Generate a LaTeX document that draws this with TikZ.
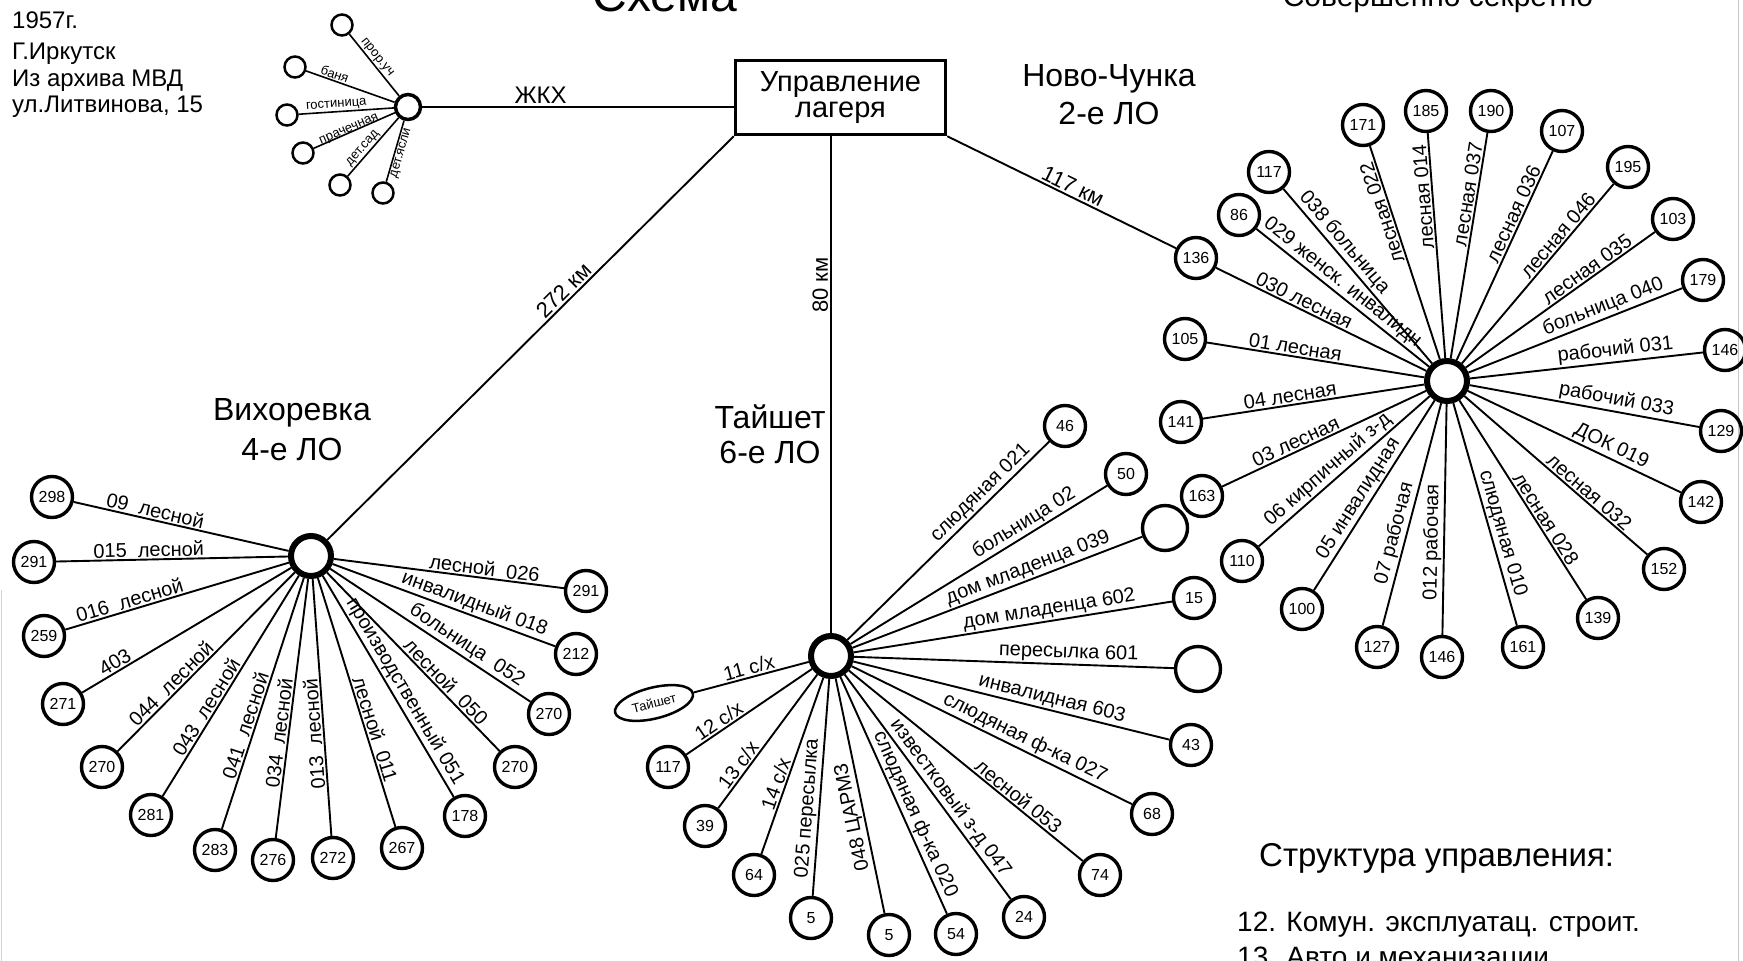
\documentclass[tikz,border=0pt]{standalone}
\usepackage{fontspec}
\setmainfont{Liberation Sans}
\usetikzlibrary{shapes.geometric}
\newcommand\myfs[1]{\fontsize{#1}{#1}\selectfont}
\tikzset{
 leaf/.style={circle, draw, line width=3.4pt, minimum size=41pt, inner sep=0pt, font=\myfs{16}},
 bigleaf/.style={leaf, minimum size=45pt},
 hub/.style={circle, draw, line width=6pt, minimum size=40pt, inner sep=0pt},
 zleaf/.style={circle, draw, line width=2.5pt, minimum size=21pt, inner sep=0pt},
 zhub/.style={circle, draw, line width=3.5pt, minimum size=25pt, inner sep=0pt},
 conn/.style={line width=1.9pt},
 lab/.style={sloped, allow upside down, above, inner sep=1.5pt, font=\myfs{20}},
 zlab/.style={sloped, allow upside down, above, inner sep=1pt, font=\myfs{13}},
 region/.style={font=\myfs{32}},
 km/.style={sloped, above, inner sep=2pt, font=\myfs{22}},
 txt/.style={anchor=base west, inner sep=0pt, font=\myfs{24}},
}
\newcommand\lnk[4][0.5]{\draw[conn] (#2) -- node[lab,pos=#1]{#4} (#3);}
\newcommand\zlnk[4][]{\draw[conn, line width=1.6pt] (#2) -- node[zlab,#1]{#4} (#3);}
\begin{document}
\begin{tikzpicture}[x=1pt, y=-1pt]
\useasboundingbox (0,0) rectangle (1743,961);
\clip (0,0) rectangle (1743,961);
\fill[white] (0,0) rectangle (1743,961);
\draw[gray!45, line width=1pt] (1738,0) -- (1738,961);
\draw[gray!35, line width=1pt] (1.5,590) -- (1.5,961);

% titles and notes
\node[anchor=base, inner sep=0pt, font=\myfs{48}] (title) at (665,11) {Схема};
\node[anchor=base, inner sep=0pt, font=\myfs{30}] (secret) at (1438,6) {Совершенно секретно};
\node[txt] (t1) at (12,28) {1957г.};
\node[txt] (t2) at (12,59) {Г.Иркутск};
\node[txt] (t3) at (12,86) {Из архива МВД};
\node[txt] (t4) at (12,112) {ул.Литвинова, 15};
\node[txt, font=\myfs{33}] (s0) at (1259,866) {Структура управления:};
\node[txt, font=\myfs{28}] (s1) at (1237,931) {12. Комун. эксплуатац. строит.};
\node[txt, font=\myfs{28}] (s2) at (1237,966) {13. Авто и механизации};

% management box
\node[draw, line width=3.5pt, minimum width=210pt, minimum height=74pt, align=center, font=\myfs{29}] (box) at (840.5,97.5) {Управление\\[-3pt]лагеря};

% ZhKKh star
\node[zhub] (zh) at (408,107) {};
\node[zleaf] (z1) at (342,25) {};
\node[zleaf] (z2) at (295,67) {};
\node[zleaf] (z3) at (287,115) {};
\node[zleaf] (z4) at (303,153) {};
\node[zleaf] (z5) at (340,185) {};
\node[zleaf] (z6) at (383,193) {};
\zlnk[pos=0.45]{z1}{zh}{прор.уч}
\zlnk[pos=0.3]{z2}{zh}{баня}
\zlnk[pos=0.4]{z3}{zh}{гостиница}
\zlnk[inner sep=-3pt, pos=0.45]{z4}{zh}{прачечная}
\zlnk[pos=0.4]{z5}{zh}{дет.сад}
\zlnk[below, pos=0.5]{z6}{zh}{дет.ясли}
\draw[conn] (zh) -- node[above, inner sep=3pt, pos=0.38, font=\myfs{24}] {ЖКХ} (zh -| box.west);

% regional hubs
\node[hub] (h2) at (1447,381) {};
\node[hub] (h4) at (311,556) {};
\node[hub] (h6) at (831,656) {};
\node[region] (r2a) at (1109,79) {Ново-Чунка};
\node[region] (r2b) at (1109,113) {2-е ЛО};
\node[region] (r4a) at (292,413) {Вихоревка};
\node[region] (r4b) at (292,449) {4-е ЛО};
\node[region] (r6a) at (770,417) {Тайшет};
\node[region] (r6b) at (770,452) {6-е ЛО};

% Novo-Chunka
\node[leaf] (n136) at (1196,258) {136};
\node[leaf] (n86) at (1239,215) {86};
\node[leaf] (n117) at (1269,172) {117};
\node[leaf] (n171) at (1363,125) {171};
\node[leaf] (n185) at (1426,111) {185};
\node[leaf] (n190) at (1491,111) {190};
\node[leaf] (n107) at (1562,131) {107};
\node[leaf] (n195) at (1628,167) {195};
\node[leaf] (n103) at (1673,219) {103};
\node[leaf] (n179) at (1703,280) {179};
\node[leaf] (n146) at (1725,350) {146};
\node[leaf] (n129) at (1721,431) {129};
\node[leaf] (n142) at (1701,502) {142};
\node[leaf] (n152) at (1664,569) {152};
\node[leaf] (n139) at (1598,618) {139};
\node[leaf] (n161) at (1523,647) {161};
\node[leaf] (n146b) at (1442,657) {146};
\node[leaf] (n127) at (1377,647) {127};
\node[leaf] (n100) at (1302,609) {100};
\node[leaf] (n110) at (1242,561) {110};
\node[leaf] (n163) at (1202,496) {163};
\node[leaf] (n141) at (1181,422) {141};
\node[leaf] (n105) at (1185,339) {105};
\lnk[0.4]{n136}{h2}{030 лесная}
\lnk[0.47]{n86}{h2}{029 женск. инвалидн.}
\lnk[0.35]{n117}{h2}{038 больница}
\lnk[0.7]{h2}{n171}{лесная 022}
\lnk[0.72]{h2}{n185}{лесная 014}
\lnk[0.72]{h2}{n190}{лесная 037}
\lnk[0.68]{h2}{n107}{лесная 036}
\lnk[0.68]{h2}{n195}{лесная 046}
\lnk[0.67]{h2}{n103}{лесная 035}
\lnk[0.65]{h2}{n179}{больница 040}
\lnk[0.63]{h2}{n146}{рабочий 031}
\lnk[0.63]{h2}{n129}{рабочий 033}
\lnk[0.65]{h2}{n142}{ДОК 019}
\lnk[0.65]{h2}{n152}{лесная 032}
\lnk[0.62]{h2}{n139}{лесная 028}
\lnk[0.6]{h2}{n161}{слюдяная 010}
\lnk[0.4]{n146b}{h2}{012 рабочая}
\lnk[0.4]{n127}{h2}{07 рабочая}
\lnk[0.45]{n100}{h2}{05 инвалидная}
\lnk[0.45]{n110}{h2}{06 кирпичный з-д}
\lnk[0.38]{n163}{h2}{03 лесная}
\lnk[0.4]{n141}{h2}{04 лесная}
\lnk[0.4]{n105}{h2}{01 лесная}

% Vikhorevka
\node[leaf] (v298) at (52,497) {298};
\node[leaf] (v291) at (34,562) {291};
\node[leaf] (v259) at (44,636) {259};
\node[leaf] (v271) at (63,704) {271};
\node[leaf] (v270a) at (102,767) {270};
\node[leaf] (v281) at (151,815) {281};
\node[leaf] (v283) at (215,850) {283};
\node[leaf] (v276) at (273,860) {276};
\node[leaf] (v272) at (333,858) {272};
\node[leaf] (v267) at (402,848) {267};
\node[leaf] (v178) at (465,816) {178};
\node[leaf] (v270b) at (515,767) {270};
\node[leaf] (v270c) at (549,714) {270};
\node[leaf] (v212) at (576,654) {212};
\node[leaf] (v291b) at (586,591) {291};
\lnk[0.37]{v298}{h4}{09~ лесной}
\lnk[0.4]{v291}{h4}{015~ лесной}
\lnk[0.3]{v259}{h4}{016~ лесной}
\lnk[0.18]{v271}{h4}{403}
\lnk[0.34]{v270a}{h4}{044~ лесной}
\lnk[0.38]{v281}{h4}{043~ лесной}
\lnk[0.4]{v283}{h4}{041~ лесной}
\lnk[0.4]{v276}{h4}{034~ лесной}
\lnk[0.4]{v272}{h4}{013~ лесной}
\lnk[0.62]{h4}{v267}{лесной~ 011}
\lnk[0.55]{h4}{v178}{производственный 051}
\lnk[0.65]{h4}{v270b}{лесной~ 050}
\lnk[0.65]{h4}{v270c}{больница~ 052}
\lnk[0.62]{h4}{v212}{инвалидный 018}
\lnk[0.65]{h4}{v291b}{лесной~ 026}

% Taishet
\node[ellipse, draw, line width=2.5pt, minimum width=80pt, minimum height=31pt, inner sep=0pt, rotate=14, font=\myfs{13}] (tel) at (654,703) {Тайшет};
\node[leaf] (t117) at (668,767) {117};
\node[leaf] (t39) at (705,826) {39};
\node[leaf] (t64) at (754,875) {64};
\node[leaf] (t5a) at (811,918) {5};
\node[leaf] (t5b) at (889,935) {5};
\node[leaf] (t54) at (956,934) {54};
\node[leaf] (t24) at (1024,917) {24};
\node[leaf] (t74) at (1100,875) {74};
\node[leaf] (t68) at (1152,814) {68};
\node[leaf] (t43) at (1191,745) {43};
\node[bigleaf] (t601) at (1198,669) {};
\node[leaf] (t15) at (1194,598) {15};
\node[bigleaf] (t039) at (1165,528) {};
\node[leaf] (t50) at (1126,474) {50};
\node[leaf] (t46) at (1065,426) {46};
\lnk[0.5]{tel}{h6}{11 с/х}
\lnk[0.3]{t117}{h6}{12 с/х}
\lnk[0.28]{t39}{h6}{13 с/х}
\lnk[0.38]{t64}{h6}{14 с/х}
\lnk[0.4]{t5a}{h6}{025 пересылка}
\lnk[0.42]{t5b}{h6}{048 ЦАРМЗ}
\lnk[0.6]{h6}{t54}{слюдяная ф-ка 020}
\lnk[0.58]{h6}{t24}{известковый з-д 047}
\lnk[0.7]{h6}{t74}{лесной 053}
\lnk[0.6]{h6}{t68}{слюдяная ф-ка 027}
\lnk[0.62]{h6}{t43}{инвалидная 603}
\lnk[0.67]{h6}{t601}{пересылка 601}
\lnk[0.62]{h6}{t15}{дом младенца 602}
\lnk[0.62]{h6}{t039}{дом младенца 039}
\lnk[0.7]{h6}{t50}{больница 02}
\lnk[0.7]{h6}{t46}{слюдяная 021}

% trunk lines
\draw[conn] (h4) -- node[km, pos=0.6] {272 км} (box.south west);
\draw[conn] (h6) -- node[km, pos=0.7] {80 км} (h6 |- box.south);
\draw[conn] (box.south east) -- node[km, pos=0.53] {117 км} (n136);
\end{tikzpicture}
\end{document}
